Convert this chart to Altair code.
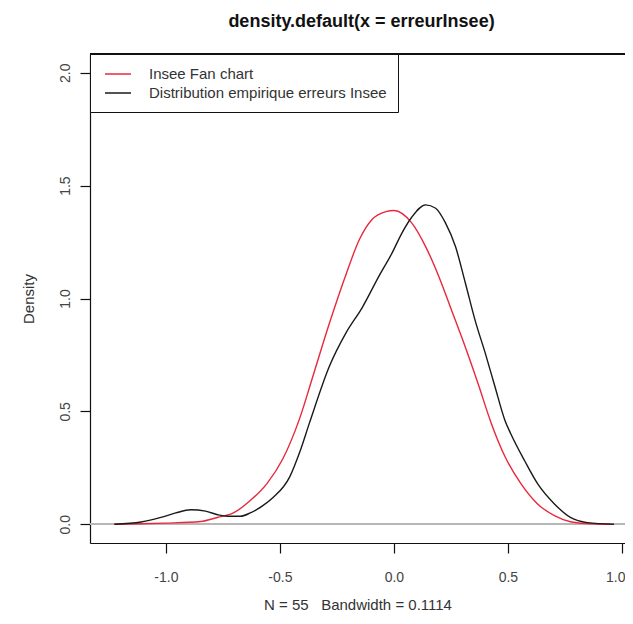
import altair as alt
import pandas as pd

# ---- data ----
series_names = ["Insee Fan chart", "Distribution empirique erreurs Insee"]
series_colors = ["#e8283c", "#1a1a1a"]

red_x = [-1.226, -1.109, -1.0, -0.848, -0.774, -0.704, -0.630, -0.557, -0.487, -0.413,
         -0.357, -0.283, -0.209, -0.152, -0.096, -0.035, 0.0, 0.078, 0.139, 0.196,
         0.252, 0.313, 0.370, 0.426, 0.487, 0.557, 0.630, 0.704, 0.774, 0.848, 0.948]
red_y = [0.0, 0.002, 0.005, 0.012, 0.03, 0.05, 0.105, 0.18, 0.29, 0.47,
         0.65, 0.89, 1.11, 1.26, 1.35, 1.385, 1.39, 1.335, 1.23, 1.10,
         0.95, 0.785, 0.62, 0.45, 0.30, 0.18, 0.09, 0.038, 0.011, 0.003, 0.0]

black_x = [-1.226, -1.109, -1.022, -0.957, -0.891, -0.826, -0.774, -0.730, -0.674, -0.630,
           -0.578, -0.530, -0.457, -0.413, -0.370, -0.283, -0.209, -0.139, -0.065, -0.009,
           0.035, 0.078, 0.139, 0.183, 0.226, 0.270, 0.313, 0.357, 0.400, 0.443,
           0.487, 0.513, 0.574, 0.630, 0.704, 0.774, 0.848, 0.965]
black_y = [0.0, 0.01, 0.03, 0.05, 0.064, 0.058, 0.042, 0.035, 0.035, 0.05,
           0.08, 0.118, 0.21, 0.32, 0.45, 0.70, 0.85, 0.96, 1.10, 1.20,
           1.29, 1.36, 1.415, 1.40, 1.335, 1.23, 1.07, 0.90, 0.76, 0.61,
           0.46, 0.40, 0.28, 0.18, 0.09, 0.03, 0.007, 0.0]

x_ticks = [-1.0, -0.5, 0.0, 0.5, 1.0]
y_ticks = [0.0, 0.5, 1.0, 1.5, 2.0]
x_domain = [-1.333, 1.0135]
y_domain = [-0.0832, 2.0832]

title_text = "density.default(x = erreurInsee)"
x_title = "N = 55\u00a0\u00a0 Bandwidth = 0.1114"
y_title = "Density"

rows = []
for i, (xv, yv) in enumerate(zip(red_x, red_y)):
    rows.append({"series": series_names[0], "x": xv, "y": yv, "order": i})
for i, (xv, yv) in enumerate(zip(black_x, black_y)):
    rows.append({"series": series_names[1], "x": xv, "y": yv, "order": i})
df = pd.DataFrame(rows)

W, H = 535, 489
FONT = "Liberation Sans"
fmt = "replace(format(datum.value, '.1f'), '\u2212', '-')"

xs = alt.Scale(domain=x_domain, nice=False, zero=False)
ys = alt.Scale(domain=y_domain, nice=False, zero=False)

zero_line = alt.Chart(df).mark_rule(color="#b8b8b8", strokeWidth=1).encode(
    y=alt.datum(0, scale=ys),
    x=alt.value(0),
    x2=alt.value(W),
)

curves = alt.Chart(df).mark_line(strokeWidth=1.4, interpolate="monotone").encode(
    x=alt.X("x:Q", scale=xs,
            axis=alt.Axis(values=x_ticks, labelExpr=fmt, title=x_title,
                          tickSize=10, labelPadding=17, titlePadding=13,
                          labelAlign={"condition": {"test": "datum.value >= 1", "value": "right"},
                                      "value": "center"},
                          labelOffset={"condition": {"test": "datum.value >= 1", "value": 3},
                                       "value": 0},
                          labelFlush=False, labelOverlap=False)),
    y=alt.Y("y:Q", scale=ys,
            axis=alt.Axis(values=y_ticks, labelExpr=fmt, title=y_title,
                          tickSize=10, labelAngle=-90, labelAlign="center",
                          labelBaseline="bottom", labelPadding=8, titlePadding=22,
                          labelFlush=False, labelOverlap=False)),
    color=alt.Color("series:N",
                    scale=alt.Scale(domain=series_names, range=series_colors),
                    legend=alt.Legend(title=None, orient="top-left", offset=0,
                                      padding=11, rowPadding=2,
                                      symbolType="M-1.625,0H1.625", symbolSize=256,
                                      symbolStrokeWidth=1.5, symbolOffset=8,
                                      labelOffset=22, labelFontSize=15, labelFont=FONT,
                                      labelColor="#333333", labelLimit=400,
                                      strokeColor="#111111", fillColor="white",
                                      cornerRadius=0)),
    detail="series:N",
    order="order:Q",
)

top_border = alt.Chart(df).mark_rule(color="#111111", strokeWidth=1.2).encode(
    y=alt.value(0),
    x=alt.value(0),
    x2=alt.value(W),
)

chart = alt.layer(zero_line, curves, top_border).properties(
    width=W,
    height=H,
    background="white",
    title=alt.TitleParams(title_text, font=FONT, fontSize=18, fontWeight="bold",
                          color="#111111", anchor="middle", dx=4, offset=22),
    autosize=alt.AutoSizeParams(type="none"),
    padding={"left": 82, "top": 46, "right": 0, "bottom": 70},
).configure_view(strokeWidth=0).configure_axis(
    grid=False,
    domainColor="#111111",
    domainWidth=1.2,
    tickColor="#111111",
    tickWidth=1.2,
    labelFont=FONT,
    labelFontSize=14,
    labelColor="#444444",
    titleFont=FONT,
    titleFontSize=15,
    titleFontWeight="normal",
    titleColor="#333333",
)

chart.save("out.html", embed_options={"renderer": "svg", "actions": False})
